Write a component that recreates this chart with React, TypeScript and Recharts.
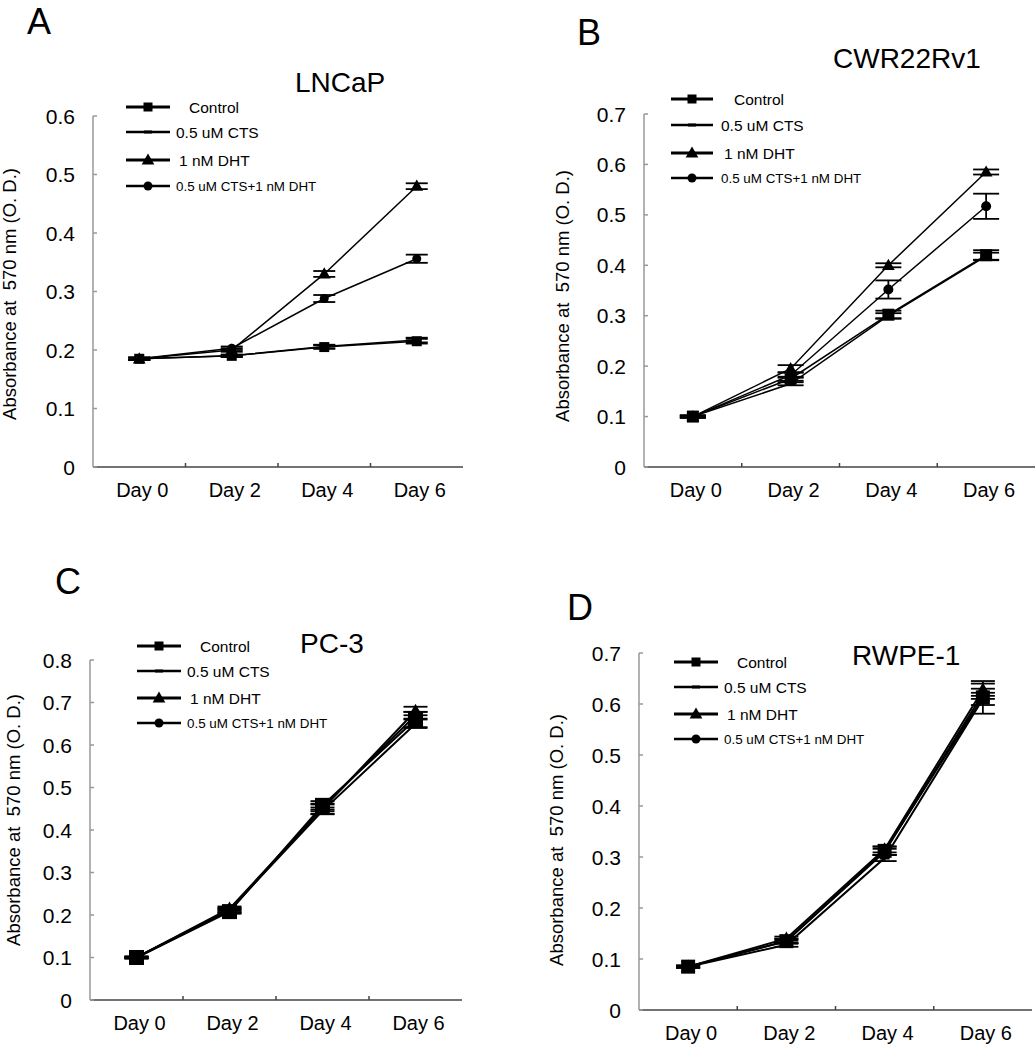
import React from "react";
import { LineChart, Line, XAxis, YAxis, ErrorBar } from "recharts";

const FONT = "'Liberation Sans', Arial, Helvetica, sans-serif";

const days = ["Day 0", "Day 2", "Day 4", "Day 6"];
const seriesNames = ["Control", "0.5 uM CTS", "1 nM DHT", "0.5 uM CTS+1 nM DHT"];
const seriesKinds = ["square", "dash", "triangle", "circle"];

// A - LNCaP
const lncapControl = [0.185, 0.19, 0.205, 0.215];
const lncapCts = [0.185, 0.19, 0.206, 0.217];
const lncapDht = [0.185, 0.2, 0.33, 0.48];
const lncapCombo = [0.185, 0.203, 0.288, 0.356];
const lncapControlErr = [0.002, 0.002, 0.003, 0.004];
const lncapCtsErr = [0.002, 0.002, 0.003, 0.004];
const lncapDhtErr = [0.002, 0.003, 0.005, 0.005];
const lncapComboErr = [0.002, 0.003, 0.006, 0.007];

// B - CWR22Rv1
const cwrControl = [0.1, 0.175, 0.302, 0.42];
const cwrCts = [0.1, 0.165, 0.3, 0.418];
const cwrDht = [0.1, 0.195, 0.4, 0.585];
const cwrCombo = [0.1, 0.182, 0.352, 0.517];
const cwrControlErr = [0.002, 0.004, 0.008, 0.01];
const cwrCtsErr = [0.002, 0.003, 0.005, 0.007];
const cwrDhtErr = [0.002, 0.007, 0.004, 0.005];
const cwrComboErr = [0.002, 0.005, 0.018, 0.025];

// C - PC-3
const pc3Control = [0.1, 0.208, 0.458, 0.66];
const pc3Cts = [0.1, 0.212, 0.445, 0.65];
const pc3Dht = [0.1, 0.215, 0.45, 0.68];
const pc3Combo = [0.1, 0.21, 0.452, 0.67];
const pc3ControlErr = [0.002, 0.005, 0.01, 0.018];
const pc3CtsErr = [0.002, 0.005, 0.008, 0.01];
const pc3DhtErr = [0.002, 0.005, 0.012, 0.01];
const pc3ComboErr = [0.002, 0.005, 0.008, 0.008];

// D - RWPE-1
const rwpeControl = [0.085, 0.135, 0.312, 0.613];
const rwpeCts = [0.085, 0.128, 0.298, 0.61];
const rwpeDht = [0.085, 0.14, 0.315, 0.628];
const rwpeCombo = [0.085, 0.135, 0.31, 0.62];
const rwpeControlErr = [0.002, 0.005, 0.008, 0.032];
const rwpeCtsErr = [0.002, 0.004, 0.006, 0.012];
const rwpeDhtErr = [0.002, 0.004, 0.006, 0.012];
const rwpeComboErr = [0.002, 0.004, 0.006, 0.01];

const ticks06 = [0, 0.1, 0.2, 0.3, 0.4, 0.5, 0.6];
const ticks07 = [0, 0.1, 0.2, 0.3, 0.4, 0.5, 0.6, 0.7];
const ticks08 = [0, 0.1, 0.2, 0.3, 0.4, 0.5, 0.6, 0.7, 0.8];

const yLabel = "Absorbance at  570 nm (O. D.)";

function buildRows(vals: number[][], errs: number[][]) {
  return days.map((d, i) => ({
    day: d,
    s0: vals[0][i], e0: errs[0][i],
    s1: vals[1][i], e1: errs[1][i],
    s2: vals[2][i], e2: errs[2][i],
    s3: vals[3][i], e3: errs[3][i],
  }));
}

function Marker({ kind, cx, cy, s }: any) {
  if (kind === "square") return <rect x={cx - s / 2} y={cy - s / 2} width={s} height={s} fill="#000" />;
  if (kind === "dash") return <rect x={cx - s / 2} y={cy - 1.5} width={s} height={3} fill="#000" />;
  if (kind === "triangle")
    return (
      <polygon
        points={`${cx},${cy - s * 0.6} ${cx + s * 0.58},${cy + s * 0.42} ${cx - s * 0.58},${cy + s * 0.42}`}
        fill="#000"
      />
    );
  return <circle cx={cx} cy={cy} r={s / 2} fill="#000" />;
}

const panels = [
  {
    letter: "A", title: "LNCaP",
    box: { x: 0, y: 0, w: 518, h: 530 }, plot: { l: 93, t: 116, r: 463, b: 467 },
    ymax: 0.6, ticks: ticks06,
    rows: buildRows([lncapControl, lncapCts, lncapDht, lncapCombo], [lncapControlErr, lncapCtsErr, lncapDhtErr, lncapComboErr]),
    sizes: [10, 9, 11, 9], lw: 1.5, cap: 11,
    legend: { x: 126, len: 44, ys: [107, 132, 160, 186] },
    letterPos: { x: 27, y: 34 }, titlePos: { x: 295, y: 92 },
    label: { x: 10, y: 294 },
  },
  {
    letter: "B", title: "CWR22Rv1",
    box: { x: 518, y: 0, w: 518, h: 530 }, plot: { l: 644, t: 114, r: 1035, b: 467 },
    ymax: 0.7, ticks: ticks07,
    rows: buildRows([cwrControl, cwrCts, cwrDht, cwrCombo], [cwrControlErr, cwrCtsErr, cwrDhtErr, cwrComboErr]),
    sizes: [12, 9, 11, 10], lw: 1.5, cap: 13,
    legend: { x: 671, len: 42, ys: [99, 125, 153, 178] },
    letterPos: { x: 577, y: 45 }, titlePos: { x: 833, y: 68 },
    label: { x: 45, y: 296 },
  },
  {
    letter: "C", title: "PC-3",
    box: { x: 0, y: 530, w: 518, h: 520 }, plot: { l: 90, t: 660, r: 462, b: 1000 },
    ymax: 0.8, ticks: ticks08,
    rows: buildRows([pc3Control, pc3Cts, pc3Dht, pc3Combo], [pc3ControlErr, pc3CtsErr, pc3DhtErr, pc3ComboErr]),
    sizes: [15, 10, 12, 11], lw: 2, cap: 12,
    legend: { x: 137, len: 44, ys: [646, 671, 698, 723] },
    letterPos: { x: 55, y: 594 }, titlePos: { x: 300, y: 653 },
    label: { x: 14, y: 290 },
  },
  {
    letter: "D", title: "RWPE-1",
    box: { x: 518, y: 530, w: 518, h: 520 }, plot: { l: 639, t: 653, r: 1032, b: 1010 },
    ymax: 0.7, ticks: ticks07,
    rows: buildRows([rwpeControl, rwpeCts, rwpeDht, rwpeCombo], [rwpeControlErr, rwpeCtsErr, rwpeDhtErr, rwpeComboErr]),
    sizes: [14, 10, 12, 11], lw: 2, cap: 12,
    legend: { x: 674, len: 44, ys: [662, 687, 714, 739] },
    letterPos: { x: 567, y: 620 }, titlePos: { x: 852, y: 665 },
    label: { x: 39, y: 310 },
  },
];

const legendTextDx = [63, 50, 53, 50];
const legendFont = [15.5, 15.5, 15.5, 13.4];
const legendLineW = [3, 2.5, 3, 2.5];
const legendSizes = [9, 8, 11, 9];
// draw order: CTS, DHT, combo, then control on top
const drawOrder = [1, 2, 3, 0];

function Panel({ p }: any) {
  const { box, plot } = p;
  const left = plot.l - box.x;
  const bottom = plot.b - box.y;
  const bw = (plot.r - plot.l) / days.length;
  const xAxisH = 40;

  const yTick = (t: any) => (
    <g>
      <line x1={left} x2={left + 4} y1={t.y} y2={t.y} stroke="#999" strokeWidth={1.5} />
      <text x={left - 18} y={t.y} dy="0.36em" textAnchor="end" fontSize={21} fontFamily={FONT} fill="#000">
        {t.payload.value}
      </text>
    </g>
  );

  const xTick = (t: any) => (
    <g>
      {t.index < days.length - 1 && (
        <line x1={t.x + bw / 2} x2={t.x + bw / 2} y1={bottom} y2={bottom - 4} stroke="#444" strokeWidth={1.5} />
      )}
      <text x={t.x + 3} y={bottom + 30} textAnchor="middle" fontSize={20} fontFamily={FONT} fill="#000">
        {t.payload.value}
      </text>
    </g>
  );

  const yLabelEl = (
    <text
      x={p.label.x}
      y={p.label.y}
      transform={`rotate(-90 ${p.label.x} ${p.label.y})`}
      textAnchor="middle"
      dy="0.35em"
      fontSize={18.5}
      fontFamily={FONT}
      fill="#000"
      style={{ whiteSpace: "pre" }}
      xmlSpace="preserve"
    >
      {yLabel}
    </text>
  );

  return (
    <div style={{ position: "absolute", left: box.x, top: box.y, width: box.w, height: box.h }}>
      <LineChart
        width={box.w}
        height={box.h}
        data={p.rows}
        margin={{ top: plot.t - box.y, right: box.x + box.w - plot.r, bottom: box.y + box.h - plot.b - xAxisH, left: 0 }}
      >
        <XAxis
          dataKey="day"
          type="category"
          scale="band"
          height={xAxisH}
          axisLine={{ stroke: "#444", strokeWidth: 1.5 }}
          tickLine={false}
          tick={xTick}
          interval={0}
        />
        <YAxis
          type="number"
          domain={[0, p.ymax]}
          ticks={p.ticks}
          width={plot.l - box.x}
          axisLine={{ stroke: "#999", strokeWidth: 1.5 }}
          tickLine={false}
          tick={yTick}
          interval={0}
          label={() => yLabelEl}
        />
        {drawOrder.map((si) => (
          <Line
            key={si}
            type="linear"
            dataKey={`s${si}`}
            stroke="#000"
            strokeWidth={p.lw}
            isAnimationActive={false}
            dot={(d: any) => (
              <Marker key={`m${si}-${d.index}`} kind={seriesKinds[si]} cx={d.cx} cy={d.cy} s={p.sizes[si]} />
            )}
            activeDot={false}
          >
            <ErrorBar dataKey={`e${si}`} width={p.cap} stroke="#000" strokeWidth={1.8} direction="y" />
          </Line>
        ))}
      </LineChart>
    </div>
  );
}

function Overlay() {
  return (
    <svg width={1036} height={1050} style={{ position: "absolute", left: 0, top: 0, pointerEvents: "none" }}>
      {panels.map((p) => (
        <g key={p.letter}>
          <text x={p.letterPos.x} y={p.letterPos.y} fontSize={36} fontFamily={FONT} fill="#000">
            {p.letter}
          </text>
          <text x={p.titlePos.x} y={p.titlePos.y} fontSize={28} fontFamily={FONT} fill="#000">
            {p.title}
          </text>
          {seriesNames.map((name, i) => {
            const y = p.legend.ys[i];
            const x0 = p.legend.x;
            const x1 = x0 + p.legend.len;
            return (
              <g key={name}>
                <line x1={x0} x2={x1} y1={y} y2={y} stroke="#000" strokeWidth={legendLineW[i]} />
                <Marker kind={seriesKinds[i]} cx={(x0 + x1) / 2} cy={y} s={legendSizes[i]} />
                <text x={x0 + legendTextDx[i]} y={y} dy="0.36em" fontSize={legendFont[i]} fontFamily={FONT} fill="#000">
                  {name}
                </text>
              </g>
            );
          })}
        </g>
      ))}
    </svg>
  );
}

export default function App() {
  return (
    <div style={{ position: "relative", width: 1036, height: 1050, background: "#fff", fontFamily: FONT }}>
      <style>{`body{margin:0;}`}</style>
      {panels.map((p) => (
        <Panel key={p.letter} p={p} />
      ))}
      <Overlay />
    </div>
  );
}
